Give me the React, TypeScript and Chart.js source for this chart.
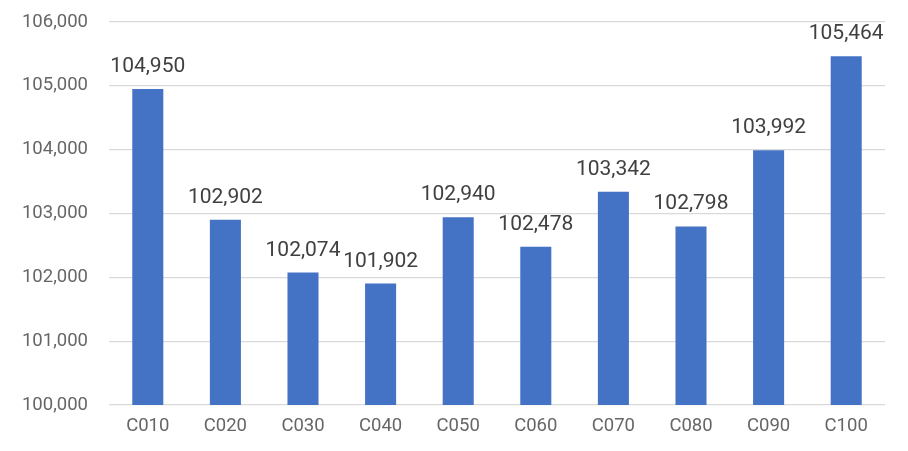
import React, { useEffect, useRef } from "react";
import { Chart, registerables } from "chart.js";

Chart.register(...registerables);

const categories = ["C010", "C020", "C030", "C040", "C050", "C060", "C070", "C080", "C090", "C100"];
const values = [104950, 102902, 102074, 101902, 102940, 102478, 103342, 102798, 103992, 105464];
const yMin = 100000;
const yMax = 106000;
const yStep = 1000;

const fmt = (v: number) => v.toLocaleString("en-US");

const dataLabelPlugin = {
  id: "dataLabels",
  afterDatasetsDraw(chart: any) {
    const { ctx } = chart;
    const meta = chart.getDatasetMeta(0);
    ctx.save();
    ctx.font = "21px Roboto";
    ctx.fillStyle = "#404040";
    ctx.textAlign = "center";
    ctx.textBaseline = "alphabetic";
    meta.data.forEach((bar: any, i: number) => {
      ctx.fillText(fmt(values[i]), bar.x, bar.y - 17);
    });
    ctx.restore();
  },
};

export default function App() {
  const ref = useRef<HTMLCanvasElement>(null);
  useEffect(() => {
    if (!ref.current) return;
    const chart = new Chart(ref.current, {
      type: "bar",
      data: {
        labels: categories,
        datasets: [
          {
            data: values,
            backgroundColor: "#4472C4",
            barPercentage: 0.4,
            categoryPercentage: 1,
          },
        ],
      },
      options: {
        animation: false,
        responsive: true,
        maintainAspectRatio: false,
        layout: { padding: { top: 22, right: 23, left: 0, bottom: 0 } },
        plugins: { legend: { display: false }, tooltip: { enabled: false } },
        scales: {
          x: {
            grid: { display: false, drawTicks: false },
            border: { display: false },
            ticks: { color: "#666666", font: { family: "Roboto", size: 18.5 }, padding: 10 },
            afterFit: (s: any) => {
              s.height = 46;
            },
          },
          y: {
            min: yMin,
            max: yMax,
            grid: { color: "#d9d9d9", lineWidth: 1.3, drawTicks: false },
            border: { display: false },
            ticks: {
              stepSize: yStep,
              color: "#666666",
              font: { family: "Roboto", size: 18.5 },
              padding: 21,
              callback: (v: any) => fmt(Number(v)),
            },
            afterFit: (s: any) => {
              s.width = 109;
              s.paddingTop = 11;
              s.paddingBottom = 11;
            },
          },
        },
      },
      plugins: [dataLabelPlugin],
    });
    return () => chart.destroy();
  }, []);
  return (
    <div style={{ position: "fixed", left: 0, top: 0, width: 908, height: 451, background: "#fff" }}>
      <canvas ref={ref} />
    </div>
  );
}
